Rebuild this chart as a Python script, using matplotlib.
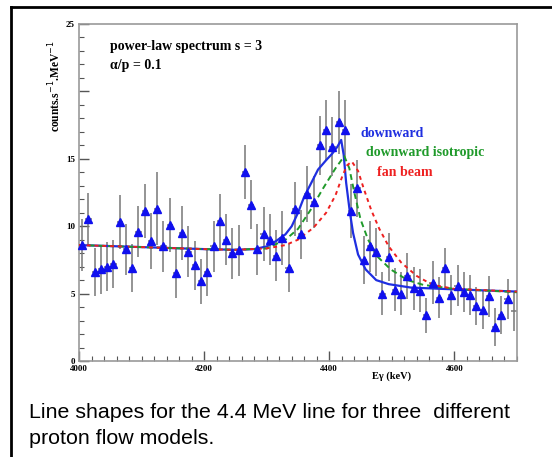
import numpy as np
import matplotlib
matplotlib.use("Agg")
import matplotlib.pyplot as plt
from matplotlib.lines import Line2D
from matplotlib.ticker import MultipleLocator

# ---- measured spectrum (10 keV bins) ----
energy = [4005, 4015, 4025, 4035, 4045, 4055, 4065, 4075, 4085, 4095,
          4105, 4115, 4125, 4135, 4145, 4155, 4165, 4175, 4185, 4195,
          4205, 4215, 4225, 4235, 4245, 4255, 4265, 4275, 4285, 4295,
          4305, 4315, 4325, 4335, 4345, 4355, 4365, 4375, 4385, 4395,
          4405, 4415, 4425, 4435, 4445, 4455, 4465, 4475, 4485, 4495,
          4505, 4515, 4525, 4535, 4545, 4555, 4565, 4575, 4585, 4595,
          4605, 4615, 4625, 4635, 4645, 4655, 4665, 4675, 4685, 4695]
counts = [8.6, 10.5, 6.6, 6.8, 7.0, 7.2, 10.3, 8.3, 6.9, 9.6,
          11.1, 8.9, 11.3, 8.5, 10.1, 6.5, 9.5, 8.1, 7.1, 5.9,
          6.6, 8.5, 10.4, 9.0, 8.0, 8.2, 14.0, 11.6, 8.3, 9.4,
          9.0, 7.8, 9.1, 6.9, 11.3, 9.4, 12.4, 11.8, 16.0, 17.1,
          15.9, 17.7, 17.1, 11.1, 12.8, 7.5, 8.5, 8.1, 5.0, 7.7,
          5.3, 5.0, 6.3, 5.4, 5.2, 3.4, 5.8, 4.7, 6.9, 4.9,
          5.6, 5.1, 4.9, 4.1, 3.8, 4.8, 2.5, 3.4, 4.6, 3.7]
errors = [1.9, 2.0, 1.8, 1.8, 1.8, 1.8, 2.0, 1.9, 1.8, 1.9,
          2.0, 2.1, 2.7, 1.9, 2.0, 1.8, 2.0, 1.9, 1.8, 1.7,
          1.8, 1.9, 2.0, 1.9, 1.9, 1.9, 2.0, 1.8, 1.9, 2.0,
          1.9, 1.9, 2.0, 1.8, 2.0, 1.8, 2.1, 1.9, 2.2, 2.25,
          2.2, 2.35, 2.25, 2.0, 2.1, 1.8, 1.9, 1.8, 1.6, 1.8,
          1.6, 1.6, 1.7, 1.6, 1.6, 1.3, 1.6, 1.5, 1.5, 1.5,
          1.5, 1.5, 1.5, 1.4, 1.4, 1.5, 1.4, 1.4, 1.5, 1.5]

# ---- model line shapes ----
down_e = [4000, 4100, 4200, 4250, 4280, 4300, 4315, 4330, 4340, 4350,
          4360, 4370, 4382, 4395, 4405, 4413, 4419, 4423, 4427, 4433,
          4438, 4446, 4458, 4475, 4495, 4530, 4580, 4700]
down_c = [8.6, 8.45, 8.3, 8.25, 8.3, 8.5, 8.9, 9.4, 10.0, 11.0,
          12.2, 13.1, 14.2, 14.9, 15.4, 15.9, 16.4, 15.3, 13.2, 11.0,
          9.5, 7.9, 6.8, 6.0, 5.7, 5.45, 5.35, 5.15]

iso_e = [4000, 4100, 4200, 4250, 4300, 4330, 4350, 4370, 4390, 4410,
         4424, 4432, 4440, 4450, 4462, 4478, 4498, 4525, 4550, 4600, 4700]
iso_c = [8.6, 8.45, 8.3, 8.25, 8.35, 9.0, 9.8, 11.2, 12.8, 14.3,
         15.2, 14.3, 12.5, 10.5, 9.0, 7.7, 6.8, 6.0, 5.65, 5.35, 5.1]

fan_e = [4000, 4100, 4200, 4250, 4300, 4330, 4350, 4375, 4395, 4410,
         4420, 4428, 4436, 4446, 4455, 4467, 4480, 4495, 4515, 4540,
         4565, 4600, 4650, 4700]
fan_c = [8.6, 8.45, 8.3, 8.25, 8.35, 8.6, 9.0, 9.9, 11.0, 12.3,
         13.6, 14.5, 14.8, 14.1, 12.8, 11.2, 9.8, 8.5, 7.3, 6.3,
         5.65, 5.35, 5.25, 5.15]

ytick_vals = [0, 5, 10, 15, 20, 25]
ytick_labels = ["0", "5", "10", "15", "", "25"]
xtick_vals = [4000, 4200, 4400, 4600]

SERIF = ["Liberation Serif", "DejaVu Serif"]
SANS = ["Liberation Sans", "DejaVu Sans"]

DPI = 100
fig = plt.figure(figsize=(552 / DPI, 457 / DPI), dpi=DPI, facecolor="white")
ax = fig.add_axes([79 / 552, 1 - 361 / 457, (517 - 79) / 552, (361 - 24) / 457])

# curves first, points on top
ax.plot(down_e, down_c, color="#1f2fe0", lw=1.6, zorder=3)
ax.plot(iso_e, iso_c, color="#1f9a2a", lw=1.4, dashes=(3, 2), zorder=4)
ax.plot(fan_e, fan_c, color="#ee2020", lw=1.4, dashes=(2, 2), zorder=5)

ax.errorbar(energy, counts, yerr=errors, xerr=5, fmt="none",
            ecolor="#767676", elinewidth=1.1, capsize=0, zorder=2)
ax.plot(energy[:-1], counts[:-1], "^", color="#1010ee", ms=5.3,
        mec="#1010ee", zorder=6, clip_on=False)

ax.set_xlim(4000, 4700)
ax.set_ylim(0, 25)

ax.set_xticks(xtick_vals)
ax.set_xticklabels([str(v) for v in xtick_vals])
ax.set_yticks(ytick_vals)
ax.set_yticklabels(ytick_labels)
ax.xaxis.set_minor_locator(MultipleLocator(20))
ax.yaxis.set_minor_locator(MultipleLocator(1))
ax.tick_params(which="both", direction="in", top=False, right=False,
               colors="#555555", labelcolor="black")
ax.tick_params(which="major", length=7, width=1.0, labelsize=6.5, pad=3)
ax.tick_params(which="minor", length=3.5, width=0.8)
for lab in ax.get_xticklabels() + ax.get_yticklabels():
    lab.set_fontfamily(SERIF)
    lab.set_fontweight("bold")

for sp in ax.spines.values():
    sp.set_color("#9a9a9a")
    sp.set_linewidth(1.2)

fig.text(392 / 552, 1 - 376 / 457, "E\u03b3 (keV)", ha="center", va="center",
         fontsize=7.5, fontweight="bold", family=SERIF)
fig.text(55 / 552, 1 - 86 / 457, "counts.s$^{-1}$.MeV$^{-1}$", rotation=90,
         ha="center", va="center", fontsize=8.3, fontweight="bold", family=SERIF)

ax.text(4050, 23.3, "power-law spectrum s = 3", fontsize=10, fontweight="bold",
        family=SERIF, va="center")
ax.text(4050, 21.9, "\u03b1/p = 0.1", fontsize=10, fontweight="bold",
        family=SERIF, va="center")

ax.text(4450, 16.9, "downward", color="#1f2fe0", fontsize=10,
        fontweight="bold", family=SERIF, va="center")
ax.text(4458, 15.5, "downward isotropic", color="#1f9a2a", fontsize=10,
        fontweight="bold", family=SERIF, va="center")
ax.text(4477, 14.0, "fan beam", color="#ee2020", fontsize=10,
        fontweight="bold", family=SERIF, va="center")

# caption under the plot
fig.text(29 / 552, 1 - 412 / 457,
         "Line shapes for the 4.4 MeV line for three  different",
         fontsize=15.4, family=SANS, va="center", ha="left")
fig.text(29 / 552, 1 - 438 / 457, "proton flow models.",
         fontsize=15.4, family=SANS, va="center", ha="left")

# outer page frame (left and top edges)
fig.add_artist(Line2D([11 / 552, 11 / 552], [0, 1 - 7 / 457],
                      transform=fig.transFigure, color="black", lw=2))
fig.add_artist(Line2D([11 / 552, 1], [1 - 7 / 457, 1 - 7 / 457],
                      transform=fig.transFigure, color="black", lw=2))

fig.savefig("out.png", dpi=DPI, facecolor="white")
